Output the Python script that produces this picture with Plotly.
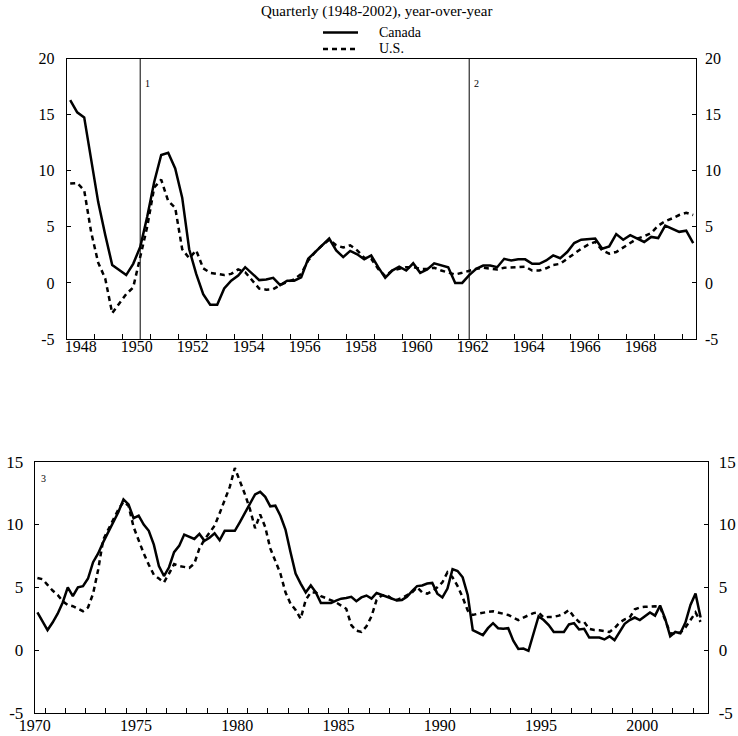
import plotly.graph_objects as go

# ---------------- data (year-over-year %, quarterly) ----------------
top_start_year = 1948      # first quarter: 1948Q1
bottom_start_year = 1970.5 # first quarter: 1970Q3

canada_top = [16.3, 15.2, 14.75, 10.9, 7.2, 4.3, 1.6, 1.15, 0.7, 1.7,
              3.2, 5.9, 9.0, 11.4, 11.6, 10.2, 7.6, 3.0, 0.8, -1.0,
              -1.95, -1.95, -0.5, 0.2, 0.65, 1.4, 0.8, 0.25, 0.3, 0.45,
              -0.2, 0.2, 0.2, 0.5, 2.15, 2.75, 3.35, 3.95, 2.9, 2.3,
              2.85, 2.55, 2.1, 2.45, 1.4, 0.45, 1.1, 1.45, 1.1, 1.75,
              0.9, 1.2, 1.75, 1.55, 1.4, 0.0, 0.0, 0.7, 1.25, 1.55,
              1.55, 1.4, 2.15, 2.0, 2.1, 2.1, 1.7, 1.7, 2.0, 2.45,
              2.2, 2.75, 3.55, 3.85, 3.9, 3.95, 3.05, 3.25, 4.35, 3.85,
              4.25, 3.95, 3.65, 4.1, 4.0, 5.1, 4.8, 4.55, 4.65, 3.55]

us_top = [8.85, 8.9, 8.25, 4.5, 1.8, 0.4, -2.7, -1.85, -1.0, -0.4,
          2.3, 5.0, 8.5, 9.2, 7.3, 6.7, 3.0, 2.2, 2.9, 1.3,
          0.9, 0.8, 0.7, 0.8, 1.2, 0.95, 0.2, -0.5, -0.6, -0.55,
          -0.2, 0.1, 0.3, 0.8, 2.0, 2.75, 3.35, 3.85, 3.35, 3.15,
          3.35, 2.9, 2.25, 2.15, 1.25, 0.6, 1.1, 1.25, 1.4, 1.4,
          1.25, 1.25, 1.35, 1.1, 0.9, 0.75, 0.9, 1.1, 1.25, 1.35,
          1.25, 1.2, 1.35, 1.4, 1.45, 1.45, 1.1, 1.1, 1.3, 1.6,
          1.7, 2.15, 2.6, 3.05, 3.4, 3.65, 2.9, 2.6, 2.75, 3.15,
          3.5, 3.95, 4.15, 4.45, 5.1, 5.5, 5.75, 6.05, 6.25, 6.05]

canada_bottom = [3.0, 2.3, 1.6, 2.2, 2.9, 3.8, 5.0, 4.3, 5.0, 5.1,
                 5.7, 7.0, 7.7, 8.6, 9.4, 10.3, 11.0, 12.0, 11.6, 10.5,
                 10.7, 10.0, 9.5, 8.4, 6.7, 5.9, 6.6, 7.8, 8.3, 9.2,
                 9.0, 8.85, 9.25, 8.7, 8.95, 9.3, 8.75, 9.5, 9.5, 9.5,
                 10.2, 10.9, 11.6, 12.4, 12.6, 12.2, 11.45, 11.5, 10.7, 9.6,
                 7.8, 6.1, 5.3, 4.6, 5.15, 4.6, 3.75, 3.75, 3.75, 3.95,
                 4.1, 4.15, 4.25, 3.9, 4.2, 4.35, 4.1, 4.55, 4.4, 4.25,
                 4.05, 3.95, 4.0, 4.25, 4.7, 5.1, 5.15, 5.3, 5.35, 4.5,
                 4.2, 4.9, 6.45, 6.3, 5.8, 4.4, 1.6, 1.4, 1.2, 1.75,
                 2.15, 1.75, 1.7, 1.75, 0.75, 0.1, 0.13, -0.05, 1.35, 2.7,
                 2.4, 2.0, 1.45, 1.45, 1.45, 2.05, 2.15, 1.65, 1.7, 1.0,
                 1.0, 1.0, 0.85, 1.1, 0.8, 1.45, 2.1, 2.4, 2.6, 2.4,
                 2.7, 3.0, 2.75, 3.55, 2.5, 1.1, 1.45, 1.35, 2.2, 3.6,
                 4.5, 2.6]

us_bottom = [5.75, 5.65, 5.2, 4.75, 4.4, 3.9, 3.6, 3.5, 3.3, 3.1,
             3.4, 4.5, 6.4, 8.8, 9.6, 10.4, 11.2, 11.8, 11.5, 9.8,
             8.7, 7.7, 6.8, 6.0, 5.7, 5.4, 6.1, 6.85, 6.7, 6.6,
             6.55, 6.9, 8.1, 8.8, 9.4, 9.9, 10.9, 12.0, 13.0, 14.5,
             13.5, 12.4, 11.2, 9.7, 10.8, 9.8, 8.1, 7.1, 6.1, 4.6,
             3.7, 3.2, 2.5, 4.0, 4.6, 4.6, 4.3, 4.15, 4.0, 3.8,
             3.55, 3.3, 2.0, 1.55, 1.45, 1.9, 2.7, 4.0, 4.35, 4.4,
             4.1, 4.0, 4.15, 4.35, 4.6, 5.0, 4.6, 4.5, 4.7, 5.0,
             5.4, 6.2, 5.8, 5.1, 4.2, 3.15, 2.8, 2.9, 3.0, 3.05,
             3.1, 3.0, 2.9, 2.8, 2.6, 2.4, 2.6, 2.75, 2.95, 3.0,
             2.6, 2.65, 2.65, 2.75, 2.9, 3.2, 2.65, 2.25, 2.25, 1.7,
             1.6, 1.58, 1.5, 1.45, 1.75, 2.2, 2.45, 2.6, 3.25, 3.4,
             3.45, 3.5, 3.5, 3.45, 2.4, 1.35, 1.3, 1.4, 1.8, 2.45,
             3.0, 2.25]

series_names = ["Canada", "U.S."]
top_year_labels = [1948, 1950, 1952, 1954, 1956, 1958, 1960, 1962, 1964, 1966, 1968]
bottom_year_labels = [1970, 1975, 1980, 1985, 1990, 1995, 2000]
regime_breaks_top = [1950.625, 1962.375]
top_yticks = [-5, 0, 5, 10, 15, 20]
bottom_yticks = [-5, 0, 5, 10, 15]

# quarter midpoints
x_top = [top_start_year + i / 4 + 0.125 for i in range(len(canada_top))]
x_bot = [bottom_start_year + i / 4 + 0.125 for i in range(len(canada_bottom))]

W, H = 738, 736
FONT = "Liberation Serif"


def fx(px):
    return px / W


def fy(py):
    return 1 - py / H


def ylabels(vals):
    return [str(v) for v in vals]  # plain hyphen minus like the original


solid = dict(color="black", width=2.5)
dashed = dict(color="black", width=2.5, dash="5px,4px")

fig = go.Figure()
fig.add_trace(go.Scatter(x=x_top, y=canada_top, mode="lines", line=solid,
                         name=series_names[0], xaxis="x", yaxis="y"))
fig.add_trace(go.Scatter(x=x_top, y=us_top, mode="lines", line=dashed,
                         name=series_names[1], xaxis="x", yaxis="y"))
fig.add_trace(go.Scatter(x=x_bot, y=canada_bottom, mode="lines", line=solid,
                         name=series_names[0], xaxis="x2", yaxis="y2"))
fig.add_trace(go.Scatter(x=x_bot, y=us_bottom, mode="lines", line=dashed,
                         name=series_names[1], xaxis="x2", yaxis="y2"))
# helper traces so the right-hand label axes are rendered
fig.add_trace(go.Scatter(x=[None], y=[None], xaxis="x", yaxis="y3",
                         hoverinfo="skip"))
fig.add_trace(go.Scatter(x=[None], y=[None], xaxis="x2", yaxis="y4",
                         hoverinfo="skip"))

top_x_range = [1948.0, 1948.0 + (696 - 66.7) / 28.0]
bot_ppy = 20.25
bot_x_range = [1971 - (45 - 34.7) / bot_ppy, 1971 + (707.7 - 45) / bot_ppy]

axis_common = dict(showline=True, linecolor="black", linewidth=1,
                   showgrid=False, zeroline=False)

fig.update_layout(
    width=W, height=H,
    margin=dict(l=0, r=0, t=0, b=0, autoexpand=False),
    paper_bgcolor="white", plot_bgcolor="white",
    font=dict(family=FONT, color="black"),
    showlegend=False,
    xaxis=dict(**axis_common, domain=[fx(66.7), fx(696)], range=top_x_range,
               mirror=True, anchor="y",
               tickmode="array", tickvals=[y + 0.5 for y in top_year_labels],
               ticktext=[str(y) for y in top_year_labels], ticks="", ticklen=0,
               tickfont=dict(family=FONT, size=16), ticklabelstandoff=-7,
               minor=dict(tickmode="array",
                          tickvals=list(range(1949, 1971)),
                          ticks="inside", ticklen=5, tickcolor="black")),
    yaxis=dict(**axis_common, domain=[fy(339), fy(58.5)], range=[-5, 20],
               mirror="ticks", anchor="x",
               tickmode="array", tickvals=top_yticks, ticktext=ylabels(top_yticks),
               ticks="inside", ticklen=4,
               tickcolor="black", tickfont=dict(family=FONT, size=16),
               ticklabelstandoff=8),
    yaxis3=dict(overlaying="y", side="right", anchor="x", range=[-5, 20],
                showline=False, showgrid=False, zeroline=False,
                tickmode="array", tickvals=top_yticks, ticktext=ylabels(top_yticks),
                ticks="", tickfont=dict(family=FONT, size=16), ticklabelstandoff=8),
    xaxis2=dict(**axis_common, domain=[fx(34.7), fx(707.7)], range=bot_x_range,
                mirror=True, anchor="y2",
                tickmode="array", tickvals=[y + 0.5 for y in bottom_year_labels],
                ticktext=[str(y) for y in bottom_year_labels], ticks="", ticklen=0,
                tickfont=dict(family=FONT, size=16), ticklabelstandoff=-2,
                minor=dict(tickmode="array",
                           tickvals=list(range(1971, 2004)),
                           ticks="inside", ticklen=5, tickcolor="black")),
    yaxis2=dict(**axis_common, domain=[fy(713), fy(461.7)], range=[-5, 15],
                mirror="ticks", anchor="x2",
                tickmode="array", tickvals=bottom_yticks,
                ticktext=ylabels(bottom_yticks), ticks="inside", ticklen=4,
                tickcolor="black", tickfont=dict(family=FONT, size=17),
                ticklabelstandoff=7),
    yaxis4=dict(overlaying="y2", side="right", anchor="x2", range=[-5, 15],
                showline=False, showgrid=False, zeroline=False,
                tickmode="array", tickvals=bottom_yticks,
                ticktext=ylabels(bottom_yticks), ticks="",
                tickfont=dict(family=FONT, size=17), ticklabelstandoff=10),
)

for xb in regime_breaks_top:
    fig.add_shape(type="line", xref="x", yref="paper", x0=xb, x1=xb,
                  y0=fy(339), y1=fy(58.5), line=dict(color="black", width=1))

for lbl, xb in zip(["1", "2"], regime_breaks_top):
    fig.add_annotation(x=xb, y=17.8, xref="x", yref="y", text=lbl,
                       showarrow=False, xanchor="left", yanchor="middle", xshift=3,
                       font=dict(family=FONT, size=10))
fig.add_annotation(x=bottom_start_year, y=13.7, xref="x2", yref="y2", text="3",
                   showarrow=False, xanchor="left", yanchor="middle", xshift=4,
                   font=dict(family=FONT, size=10))

fig.add_annotation(x=fx(377), y=fy(12), xref="paper", yref="paper",
                   text="Quarterly (1948-2002), year-over-year", showarrow=False,
                   xanchor="center", yanchor="middle",
                   font=dict(family=FONT, size=15))

# legend (drawn as a key in the header)
legend_styles = [dict(color="black", width=2.5),
                 dict(color="black", width=2.5, dash="5px,4px")]
for k, (nm, st) in enumerate(zip(series_names, legend_styles)):
    yk = fy(32.5 + 16.5 * k)
    fig.add_shape(type="line", xref="paper", yref="paper",
                  x0=fx(323), x1=fx(358), y0=yk, y1=yk, line=st)
    fig.add_annotation(x=fx(377), y=yk, xref="paper", yref="paper", text=nm,
                       showarrow=False, xanchor="left", yanchor="middle",
                       font=dict(family=FONT, size=14))

fig.write_html("out.html")
